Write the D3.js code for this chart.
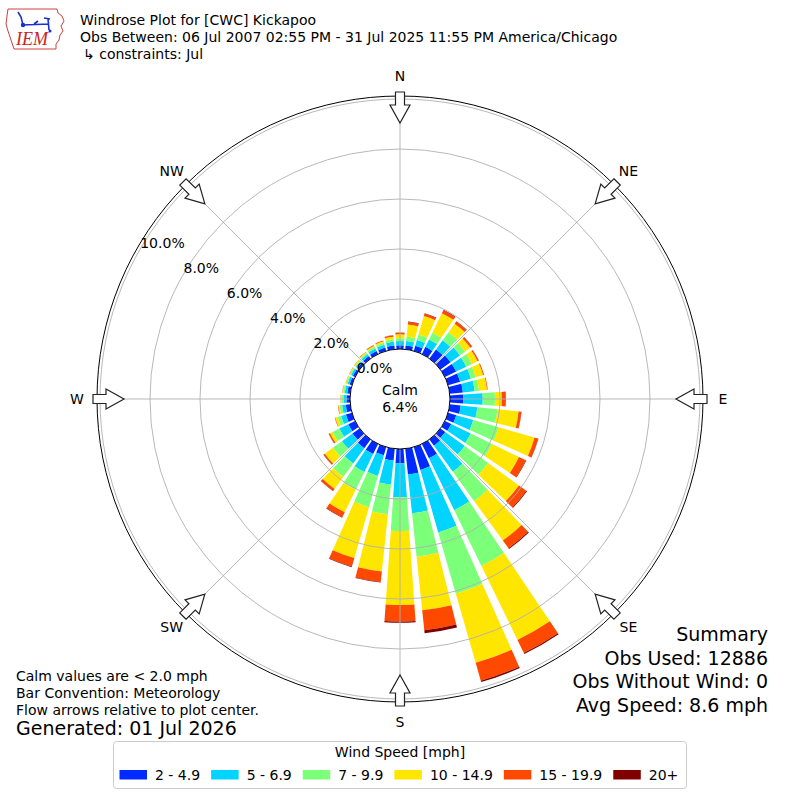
<!DOCTYPE html>
<html>
<head>
<meta charset="utf-8">
<script src="https://cdn.jsdelivr.net/npm/d3@7"></script>
<style>
body { margin: 0; background: #fff; }
text { font-family: "DejaVu Sans", sans-serif; fill: #000; }
</style>
</head>
<body>
<div id="chart"></div>
<script>
// wind directions (deg, meteorological) and % frequency per speed bin
var directions = [0, 10, 20, 30, 40, 50, 60, 70, 80, 90, 100, 110, 120, 130, 140, 150, 160, 170,
                  180, 190, 200, 210, 220, 230, 240, 250, 260, 270, 280, 290, 300, 310, 320, 330, 340, 350];

var bin2to5 =   [0.15, 0.15, 0.22, 0.32, 0.45, 0.50, 0.50, 0.50, 0.53, 0.53, 0.44, 0.34, 0.28, 0.24, 0.31, 0.64, 0.95, 1.04,
                 0.57, 0.47, 0.34, 0.45, 0.43, 0.35, 0.30, 0.25, 0.18, 0.14, 0.12, 0.10, 0.10, 0.10, 0.12, 0.14, 0.14, 0.15];
var bin5to7 =   [0.17, 0.18, 0.23, 0.33, 0.45, 0.47, 0.45, 0.45, 0.47, 0.78, 0.67, 0.71, 0.87, 0.96, 1.29, 2.31, 2.60, 1.56,
                 1.36, 0.97, 0.86, 0.80, 0.76, 0.52, 0.40, 0.20, 0.15, 0.12, 0.10, 0.08, 0.08, 0.08, 0.09, 0.11, 0.12, 0.15];
var bin7to10 =  [0.11, 0.17, 0.23, 0.30, 0.40, 0.25, 0.25, 0.20, 0.18, 0.49, 0.81, 1.05, 0.95, 1.16, 1.45, 2.48, 2.55, 1.74,
                 1.35, 1.20, 1.30, 0.79, 0.66, 0.45, 0.30, 0.15, 0.10, 0.07, 0.06, 0.05, 0.05, 0.05, 0.06, 0.07, 0.08, 0.10];
var bin10to15 = [0.16, 0.50, 0.77, 0.87, 0.42, 0.26, 0.25, 0.31, 0.32, 0.27, 0.85, 1.50, 1.20, 1.52, 1.95, 3.29, 2.88, 2.16,
                 2.96, 2.30, 2.12, 1.00, 0.60, 0.40, 0.12, 0.10, 0.05, 0.04, 0.04, 0.03, 0.03, 0.04, 0.04, 0.05, 0.06, 0.10];
var bin15to20 = [0.06, 0.10, 0.10, 0.13, 0.11, 0.08, 0.05, 0.04, 0.03, 0.16, 0.11, 0.15, 0.30, 0.37, 0.38, 0.58, 0.74, 0.80,
                 0.66, 0.42, 0.35, 0.22, 0.10, 0.06, 0.05, 0.02, 0.02, 0.01, 0.01, 0.01, 0.01, 0.01, 0.02, 0.03, 0.03, 0.05];
var bin20up =   [0.01, 0.02, 0.02, 0.02, 0.02, 0.01, 0.01, 0.00, 0.00, 0.01, 0.01, 0.01, 0.02, 0.03, 0.04, 0.05, 0.06, 0.12,
                 0.05, 0.02, 0.03, 0.02, 0.01, 0.01, 0.01, 0.00, 0.00, 0.00, 0.00, 0.00, 0.00, 0.00, 0.00, 0.00, 0.00, 0.01];

var binLabels = ["2 - 4.9", "5 - 6.9", "7 - 9.9", "10 - 14.9", "15 - 19.9", "20+"];
var binColors = ["#002aff", "#00d4ff", "#7cff79", "#ffe600", "#ff4800", "#800000"];

var ringTicks = [0, 2, 4, 6, 8, 10];
var compassNames = ["N", "NE", "E", "SE", "S", "SW", "W", "NW"];
var compassAngles = [0, 45, 90, 135, 180, 225, 270, 315];
var calmPct = 6.4;

var titleLines = ["Windrose Plot for [CWC] Kickapoo",
                  "Obs Between: 06 Jul 2007 02:55 PM - 31 Jul 2025 11:55 PM America/Chicago",
                  "\u21b3 constraints: Jul"];
var noteLines = ["Calm values are < 2.0 mph", "Bar Convention: Meteorology", "Flow arrows relative to plot center."];
var summaryLines = ["Summary", "Obs Used: 12886", "Obs Without Wind: 0", "Avg Speed: 8.6 mph"];

var w = 800, h = 800;
var cx = 400, cy = 399;
var rOuter = 303;

var svg = d3.select("#chart").append("svg")
    .attr("width", w)
    .attr("height", h);

var rScale = d3.scaleLinear().domain([0, 10]).range([50, 300]);

// stack the speed bins per direction
var keys = ["b0", "b1", "b2", "b3", "b4", "b5"];
var bins = [bin2to5, bin5to7, bin7to10, bin10to15, bin15to20, bin20up];
var rows = directions.map(function (d, i) {
    var row = { dir: d };
    keys.forEach(function (k, j) { row[k] = bins[j][i]; });
    return row;
});
var stacked = d3.stack().keys(keys)(rows);

var plot = svg.append("g").attr("transform", "translate(" + cx + "," + cy + ")");

var halfWidth = 4 * Math.PI / 180;
var arc = d3.arc()
    .innerRadius(function (d) { return rScale(d[0]); })
    .outerRadius(function (d) { return rScale(d[1]); })
    .startAngle(function (d) { return d.data.dir * Math.PI / 180 - halfWidth; })
    .endAngle(function (d) { return d.data.dir * Math.PI / 180 + halfWidth; });

plot.selectAll("g.bin")
    .data(stacked)
    .enter()
    .append("g")
    .attr("class", "bin")
    .attr("fill", function (d, i) { return binColors[i]; })
    .selectAll("path")
    .data(function (d) { return d; })
    .enter()
    .append("path")
    .attr("d", arc);

// grid
plot.selectAll("circle.ring")
    .data(ringTicks.slice(1))
    .enter()
    .append("circle")
    .attr("class", "ring")
    .attr("r", function (d) { return rScale(d); })
    .attr("fill", "none")
    .attr("stroke", "#b0b0b0")
    .attr("stroke-width", 0.9);

plot.selectAll("line.spoke")
    .data(compassAngles)
    .enter()
    .append("line")
    .attr("class", "spoke")
    .attr("x1", function (d) { return rScale(0) * Math.sin(d * Math.PI / 180); })
    .attr("y1", function (d) { return -rScale(0) * Math.cos(d * Math.PI / 180); })
    .attr("x2", function (d) { return rOuter * Math.sin(d * Math.PI / 180); })
    .attr("y2", function (d) { return -rOuter * Math.cos(d * Math.PI / 180); })
    .attr("stroke", "#b0b0b0")
    .attr("stroke-width", 0.9);

plot.append("circle")
    .attr("r", rOuter)
    .attr("fill", "none")
    .attr("stroke", "#000")
    .attr("stroke-width", 1);

// calm circle
plot.append("circle")
    .attr("r", rScale(0))
    .attr("fill", "#fff")
    .attr("stroke", "#000")
    .attr("stroke-width", 1);

plot.append("text")
    .attr("y", -4)
    .attr("text-anchor", "middle")
    .style("font-size", "14px")
    .text("Calm");
plot.append("text")
    .attr("y", 13)
    .attr("text-anchor", "middle")
    .style("font-size", "14px")
    .text(calmPct.toFixed(1) + "%");

// radial tick labels along 300 deg
var labAng = 300 * Math.PI / 180;
plot.selectAll("text.rlab")
    .data(ringTicks)
    .enter()
    .append("text")
    .attr("class", "rlab")
    .attr("x", function (d) { return rScale(d) * Math.sin(labAng); })
    .attr("y", function (d) { return -rScale(d) * Math.cos(labAng) - 1; })
    .style("font-size", "14px")
    .text(function (d) { return d.toFixed(1) + "%"; });

// flow arrows
var arrowPts = [[-4.5, -307], [4.5, -307], [4.5, -294], [10, -294], [0, -276], [-10, -294], [-4.5, -294]];
plot.selectAll("polygon.arrow")
    .data(compassAngles)
    .enter()
    .append("polygon")
    .attr("class", "arrow")
    .attr("points", arrowPts.map(function (p) { return p.join(","); }).join(" "))
    .attr("transform", function (d) { return "rotate(" + d + ")"; })
    .attr("fill", "#fff")
    .attr("stroke", "#222")
    .attr("stroke-width", 1.2);

// compass labels
plot.selectAll("text.dir")
    .data(compassNames)
    .enter()
    .append("text")
    .attr("class", "dir")
    .attr("x", function (d, i) { return 323 * Math.sin(compassAngles[i] * Math.PI / 180); })
    .attr("y", function (d, i) { return -323 * Math.cos(compassAngles[i] * Math.PI / 180) + 5; })
    .attr("text-anchor", "middle")
    .style("font-size", "14px")
    .text(function (d) { return d; });

// header
svg.selectAll("text.title")
    .data(titleLines)
    .enter()
    .append("text")
    .attr("class", "title")
    .attr("x", function (d, i) { return i == 2 ? 83 : 80; })
    .attr("y", function (d, i) { return 25 + i * 17; })
    .style("font-size", "14px")
    .text(function (d) { return d; });

// logo
var logo = svg.append("g").attr("transform", "translate(4,4)");
logo.append("path")
    .attr("d", "M4,5 L53,5 L54,9 L58,12 L60,17 L57,22 L59,27 L56,31 L55,36 L52,40 L52,45 L10,45 L8,39 L6,33 L4,27 L2,20 L3,12 Z")
    .attr("fill", "none")
    .attr("stroke", "#d04040")
    .attr("stroke-width", 1);
logo.append("path")
    .attr("d", "M14,8 L17,13 L19,21 M18,21 L45,20 M40,14 L46,15 M44,15 L45,26 M30,20 L34,17")
    .attr("fill", "none")
    .attr("stroke", "#1a2fd0")
    .attr("stroke-width", 1.6);
logo.append("circle").attr("cx", 19).attr("cy", 21).attr("r", 2.2).attr("fill", "#1a2fd0");
logo.append("circle").attr("cx", 46).attr("cy", 27).attr("r", 1.5).attr("fill", "#1a2fd0");
logo.append("text")
    .attr("x", 12)
    .attr("y", 41)
    .style("font-family", "'Liberation Serif', serif")
    .style("font-style", "italic")
    .style("font-size", "18px")
    .style("fill", "#cc2222")
    .text("IEM");

// notes bottom-left
svg.selectAll("text.note")
    .data(noteLines)
    .enter()
    .append("text")
    .attr("class", "note")
    .attr("x", 16)
    .attr("y", function (d, i) { return 681 + i * 17; })
    .style("font-size", "14px")
    .text(function (d) { return d; });

svg.append("text")
    .attr("x", 16)
    .attr("y", 735)
    .style("font-size", "19px")
    .text("Generated: 01 Jul 2026");

// summary bottom-right
svg.selectAll("text.summary")
    .data(summaryLines)
    .enter()
    .append("text")
    .attr("class", "summary")
    .attr("x", 768)
    .attr("y", function (d, i) { return 641 + i * 23.5; })
    .attr("text-anchor", "end")
    .style("font-size", "19px")
    .text(function (d) { return d; });

// legend
var legend = svg.append("g");
legend.append("rect")
    .attr("x", 113.5)
    .attr("y", 741.5)
    .attr("width", 573)
    .attr("height", 47)
    .attr("rx", 3)
    .attr("fill", "#fff")
    .attr("stroke", "#cccccc");
legend.append("text")
    .attr("x", 400)
    .attr("y", 757)
    .attr("text-anchor", "middle")
    .style("font-size", "14px")
    .text("Wind Speed [mph]");

var lx = 119.5;
binLabels.forEach(function (lab, i) {
    legend.append("rect")
        .attr("x", lx)
        .attr("y", 770)
        .attr("width", 27.5)
        .attr("height", 9.5)
        .attr("fill", binColors[i]);
    var t = legend.append("text")
        .attr("x", lx + 35.5)
        .attr("y", 780)
        .style("font-size", "14px")
        .text(lab);
    lx += 35.5 + t.node().getComputedTextLength() + 11;
});
</script>
</body>
</html>
